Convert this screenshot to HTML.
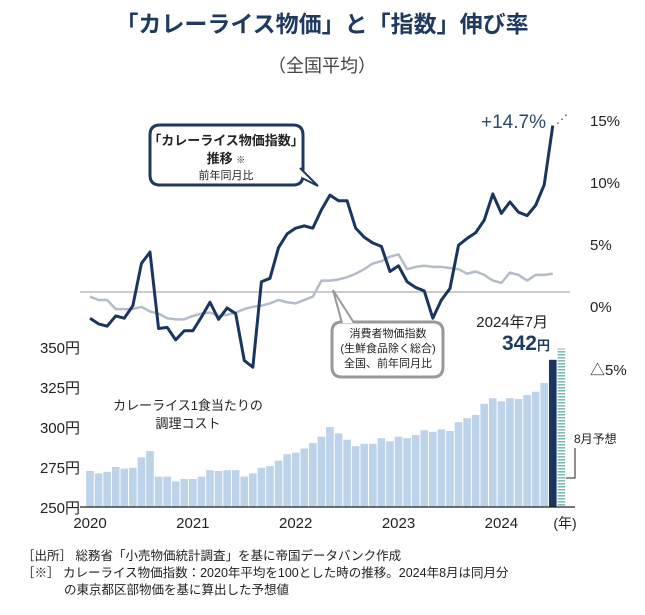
<!DOCTYPE html>
<html><head><meta charset="utf-8"><style>
html,body{margin:0;padding:0;background:#fff;}
svg{display:block;font-family:"Liberation Sans","Noto Sans CJK JP",sans-serif;}
</style></head><body>
<svg id="chart" width="645" height="615" viewBox="0 0 645 615">
<text x="322" y="32" text-anchor="middle" font-size="23" font-weight="bold" fill="#1f3a5f">「カレーライス物価」と「指数」伸び率</text>
<text x="322" y="72" text-anchor="middle" font-size="18" fill="#444">（全国平均）</text>
<g id="bars"></g>
<line x1="80" y1="292" x2="570" y2="292" stroke="#999" stroke-width="1"/>
<g id="lines"></g>
<line x1="80" y1="507" x2="575" y2="507" stroke="#222" stroke-width="1.2"/>
<g id="axes" font-size="15" fill="#222"></g>
<path d="M160 125 H293 Q303 125 303 135 V175 Q303 185 293 185 H160 Q150 185 150 175 V135 Q150 125 160 125 Z" fill="#fff" stroke="#1f3a5f" stroke-width="3"/>
<path d="M300 168 L318 186 L302 178" fill="#fff" stroke="#1f3a5f" stroke-width="2"/>
<text x="226" y="145" text-anchor="middle" font-size="13" font-weight="bold" fill="#222">「カレーライス物価指数」</text>
<text x="226" y="163" text-anchor="middle" font-size="13" font-weight="bold" fill="#222">推移 <tspan font-size="9" font-weight="normal">※</tspan></text>
<text x="226" y="179" text-anchor="middle" font-size="11" fill="#222">前年同月比</text>
<path d="M342 322 H433 Q443 322 443 332 V367 Q443 377 433 377 H342 Q332 377 332 367 V332 Q332 322 342 322 Z" fill="#fff" stroke="#999" stroke-width="3"/>
<path d="M342 323 L333 290 L354 323" fill="#fff" stroke="#999" stroke-width="2"/>
<text x="388" y="337" text-anchor="middle" font-size="11" fill="#222">消費者物価指数</text>
<text x="388" y="352" text-anchor="middle" font-size="11" fill="#222">(生鮮食品除く総合)</text>
<text x="388" y="367" text-anchor="middle" font-size="11" fill="#222">全国、前年同月比</text>
<text x="546" y="128" text-anchor="end" font-size="19" fill="#2d4a70">+14.7%</text>
<text x="556" y="123" font-size="12" fill="#1f3a5f">⋰</text>
<text x="548" y="327" text-anchor="end" font-size="15" fill="#222">2024年7月</text>
<text x="550" y="350" text-anchor="end" font-size="21" font-weight="bold" fill="#1f3a5f">342<tspan font-size="13">円</tspan></text>
<text x="188" y="410" text-anchor="middle" font-size="13" fill="#222">カレーライス1食当たりの</text>
<text x="188" y="428" text-anchor="middle" font-size="13" fill="#222">調理コスト</text>
<polyline points="566,478 575,478 575,448" fill="none" stroke="#222" stroke-width="1"/>
<text x="574" y="443" font-size="12" fill="#222">8月予想</text>
<text x="22" y="560" font-size="12.5" fill="#222">［出所］ 総務省「小売物価統計調査」を基に帝国データバンク作成</text>
<text x="22" y="577" font-size="12.5" fill="#222">［※］ カレーライス物価指数：2020年平均を100とした時の推移。2024年8月は同月分</text>
<text x="64" y="594" font-size="12.5" fill="#222">の東京都区部物価を基に算出した予想値</text>
</svg>
<script>
const barValues=[272.5,271,272,275,274,274.5,281,285,269,269,266,267.5,267.5,269,273,272.5,273,273,269,271,274.5,275.5,279,283,284,286.5,290,294,300,296,292,288,289.5,289.5,293,291,294,293,295,298,297,298.5,297.5,303,305.5,307.5,314.5,318,316,318,317.5,320,322,327.5,342,349];
const curryIndex=[-2.3,-2.8,-3.0,-2.1,-2.3,-1.2,2.5,3.5,-3.2,-3.1,-4.2,-3.4,-3.4,-2.2,-0.9,-2.4,-1.4,-1.9,-6.0,-6.6,0.9,1.2,3.9,5.1,5.6,5.8,5.6,7.2,8.5,8.0,8.0,5.6,4.8,4.3,4.0,1.8,2.3,0.9,0.4,0.1,-2.3,-0.7,0.3,4.1,4.7,5.2,6.3,8.6,6.9,7.9,7.0,6.7,7.6,9.4,14.6];
const cpiIndex=[-0.4,-0.7,-0.7,-1.5,-1.5,-1.5,-1.3,-1.7,-1.9,-2.3,-2.4,-2.4,-2.1,-1.9,-1.8,-2.1,-2.0,-1.8,-1.5,-1.3,-1.2,-1.0,-0.7,-0.9,-1.0,-0.7,-0.4,1.0,1.0,1.1,1.3,1.6,2.0,2.5,2.7,3.1,3.3,2.0,2.2,2.3,2.2,2.2,2.1,2.0,1.6,1.8,1.5,1.0,0.8,1.7,1.5,1.0,1.5,1.5,1.6];
const yearLabels=["2020","2021","2022","2023","2024"];
const priceTicks=[250,275,300,325,350];
const pctTicks=["15%","10%","5%","0%","△5%"];
const NS="http://www.w3.org/2000/svg";
const step=8.57, x0=90;
function xPos(i){return x0+i*step;}
function yPrice(v){return 507-(v-250)*1.6;}
function yPct(v){return 292-v*11.4;}
const bars=document.getElementById('bars');
const defs=document.createElementNS(NS,'defs');
defs.innerHTML='<pattern id="hatch" width="4" height="3" patternUnits="userSpaceOnUse"><rect width="4" height="3" fill="#fff"/><rect width="4" height="1.6" fill="#7fbcb4"/></pattern>';
document.getElementById('chart').prepend(defs);
barValues.forEach((v,i)=>{
  const r=document.createElementNS(NS,'rect');
  const last=barValues.length-1;
  r.setAttribute('x',xPos(i)-3.8);
  r.setAttribute('width',7.6);
  r.setAttribute('y',yPrice(v));
  r.setAttribute('height',507-yPrice(v));
  r.setAttribute('fill',i===last?'url(#hatch)':(i===last-1?'#1a3560':'#bcd3ea'));
  
  
  bars.appendChild(r);
});
const lines=document.getElementById('lines');
function line(arr,color,w,name){
  const p=document.createElementNS(NS,'polyline');
  p.setAttribute('points',arr.map((v,i)=>xPos(i)+','+yPct(v)).join(' '));
  p.setAttribute('fill','none');
  p.setAttribute('stroke',color);
  p.setAttribute('stroke-width',w);
  p.setAttribute('stroke-linejoin','round');
  
  
  lines.appendChild(p);
}
line(cpiIndex,'#b4bcc8',2.5,'cpi-line');
line(curryIndex,'#1a3560',3,'curry-index-line');
const axes=document.getElementById('axes');
yearLabels.forEach((t,k)=>{
  const e=document.createElementNS(NS,'text');
  e.setAttribute('x',xPos(k*12));e.setAttribute('y',528);e.setAttribute('text-anchor','middle');
  e.textContent=t;
  
  
  axes.appendChild(e);
});
const ny=document.createElementNS(NS,'text');
ny.setAttribute('x',565);ny.setAttribute('y',528);ny.setAttribute('text-anchor','middle');ny.setAttribute('font-size','14');
ny.textContent='(年)';


axes.appendChild(ny);
priceTicks.forEach(v=>{
  const e=document.createElementNS(NS,'text');
  e.setAttribute('x',80);e.setAttribute('y',yPrice(v)+6);e.setAttribute('text-anchor','end');
  e.textContent=v+'円';
  
  
  axes.appendChild(e);
});
const pctY=[126,188,250,312,375];
pctTicks.forEach((t,k)=>{
  const e=document.createElementNS(NS,'text');
  e.setAttribute('x',590);e.setAttribute('y',pctY[k]);
  e.textContent=t;
  
  
  axes.appendChild(e);
});
</script>
</body></html>
